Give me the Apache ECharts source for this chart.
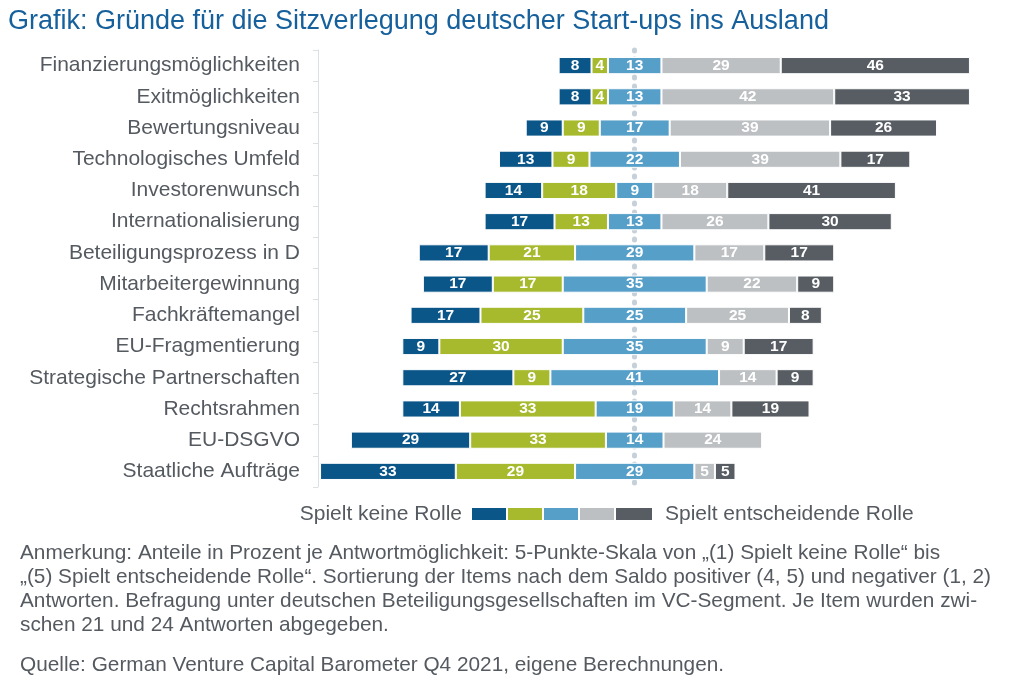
<!DOCTYPE html>
<html>
<head>
<meta charset="utf-8">
<script src="https://cdn.jsdelivr.net/npm/echarts@6/dist/echarts.min.js"></script>
<style>
    html, body { margin: 0; padding: 0; background: #fff; }
    #main { width: 1024px; height: 692px; }
</style>
</head>
<body>
<div id="main"></div>
<script>
    // Kategorien (von oben nach unten)
    var categories = [
        'Finanzierungsmöglichkeiten', 'Exitmöglichkeiten', 'Bewertungsniveau', 'Technologisches Umfeld',
        'Investorenwunsch', 'Internationalisierung', 'Beteiligungsprozess in D', 'Mitarbeitergewinnung',
        'Fachkräftemangel', 'EU-Fragmentierung', 'Strategische Partnerschaften', 'Rechtsrahmen',
        'EU-DSGVO', 'Staatliche Aufträge'
    ];
    // Anteile in Prozent je Antwort (1) ... (5)
    var s1 = [8, 8, 9, 13, 14, 17, 17, 17, 17, 9, 27, 14, 29, 33];
    var s2 = [4, 4, 9, 9, 18, 13, 21, 17, 25, 30, 9, 33, 33, 29];
    var s3 = [13, 13, 17, 22, 9, 13, 29, 35, 25, 35, 41, 19, 14, 29];
    var s4 = [29, 42, 39, 39, 18, 26, 17, 22, 25, 9, 14, 14, 24, 5];
    var s5 = [46, 33, 26, 17, 41, 30, 17, 9, 8, 17, 9, 19, 0, 5];
    var seriesNames = ['(1)', '(2)', '(3)', '(4)', '(5)'];
    var colors = ['#0b5688', '#a7ba2e', '#569fc8', '#bdc0c3', '#575d63'];

    var CENTER = 77;   // Mitte der neutralen Antwort
    var font = 'Liberation Sans, Arial, Helvetica, sans-serif';

    // unsichtbarer Versatz, damit die Mitte von (3) auf der Mittellinie liegt
    var offset = categories.map(function (c, i) {
        return CENTER - (s1[i] + s2[i] + s3[i] / 2);
    });

    var chart = echarts.init(document.getElementById('main'));

    var series = [{
        name: 'offset',
        type: 'bar',
        stack: 'all',
        z: 1,
        silent: true,
        barWidth: '55%',
        itemStyle: {color: 'transparent'},
        data: offset,
        markLine: {
            z: 0,
            silent: true,
            symbol: 'none',
            label: {show: false},
            lineStyle: {color: '#c6d0da', width: 5, type: [1, 8], cap: 'round'},
            data: [{xAxis: CENTER}]
        }
    }];
    [s1, s2, s3, s4, s5].forEach(function (vals, k) {
        series.push({
            name: seriesNames[k],
            type: 'bar',
            stack: 'all',
            z: 2,
            barWidth: '55%',
            itemStyle: {color: colors[k], borderColor: '#fff', borderWidth: 1},
            label: {
                show: true,
                position: 'inside',
                color: '#fff',
                fontFamily: font,
                fontSize: 15.5,
                fontWeight: 'bold',
                formatter: function (p) {
                    return p.value > 0 ? p.value : '';
                }
            },
            data: vals
        });
    });

    var option = {
        animation: false,
        title: {
            text: 'Grafik: Gründe für die Sitzverlegung deutscher Start-ups ins Ausland',
            left: 3,
            top: 3,
            textStyle: {color: '#16609c', fontFamily: font, fontSize: 27, fontWeight: 'normal'}
        },
        grid: {left: 318, right: 52, top: 50, bottom: 205, containLabel: false},
        xAxis: {
            type: 'value',
            min: 0,
            max: 159,
            show: false
        },
        yAxis: {
            type: 'category',
            inverse: true,
            data: categories,
            axisLine: {show: true, lineStyle: {color: '#dcdfe3', width: 1}},
            axisTick: {show: true, length: 5, lineStyle: {color: '#dcdfe3'}},
            axisLabel: {color: '#555a60', fontFamily: font, fontSize: 21, margin: 18}
        },
        legend: {
            data: seriesNames,
            left: 465,
            top: 501,
            itemWidth: 38,
            itemHeight: 14,
            itemGap: -4,
            icon: 'rect',
            selectedMode: false,
            formatter: function () { return ''; }
        },
        graphic: [
            {
                type: 'text', right: 1024 - 462, top: 504,
                style: {text: 'Spielt keine Rolle', fill: '#555a60', font: '21px ' + font}
            },
            {
                type: 'text', left: 665, top: 504,
                style: {text: 'Spielt entscheidende Rolle', fill: '#555a60', font: '21px ' + font}
            },
            {
                type: 'text', left: 20, top: 541,
                style: {
                    text: 'Anmerkung: Anteile in Prozent je Antwortmöglichkeit: 5-Punkte-Skala von „(1) Spielt keine Rolle“ bis\n' +
                        '„(5) Spielt entscheidende Rolle“. Sortierung der Items nach dem Saldo positiver (4, 5) und negativer (1, 2)\n' +
                        'Antworten. Befragung unter deutschen Beteiligungsgesellschaften im VC-Segment. Je Item wurden zwi-\n' +
                        'schen 21 und 24 Antworten abgegeben.',
                    fill: '#555a60',
                    font: '20.8px ' + font,
                    lineHeight: 24
                }
            },
            {
                type: 'text', left: 20, top: 653,
                style: {
                    text: 'Quelle: German Venture Capital Barometer Q4 2021, eigene Berechnungen.',
                    fill: '#555a60',
                    font: '20.8px ' + font,
                    lineHeight: 24
                }
            }
        ],
        series: series
    };
    chart.setOption(option);
</script>
</body>
</html>
